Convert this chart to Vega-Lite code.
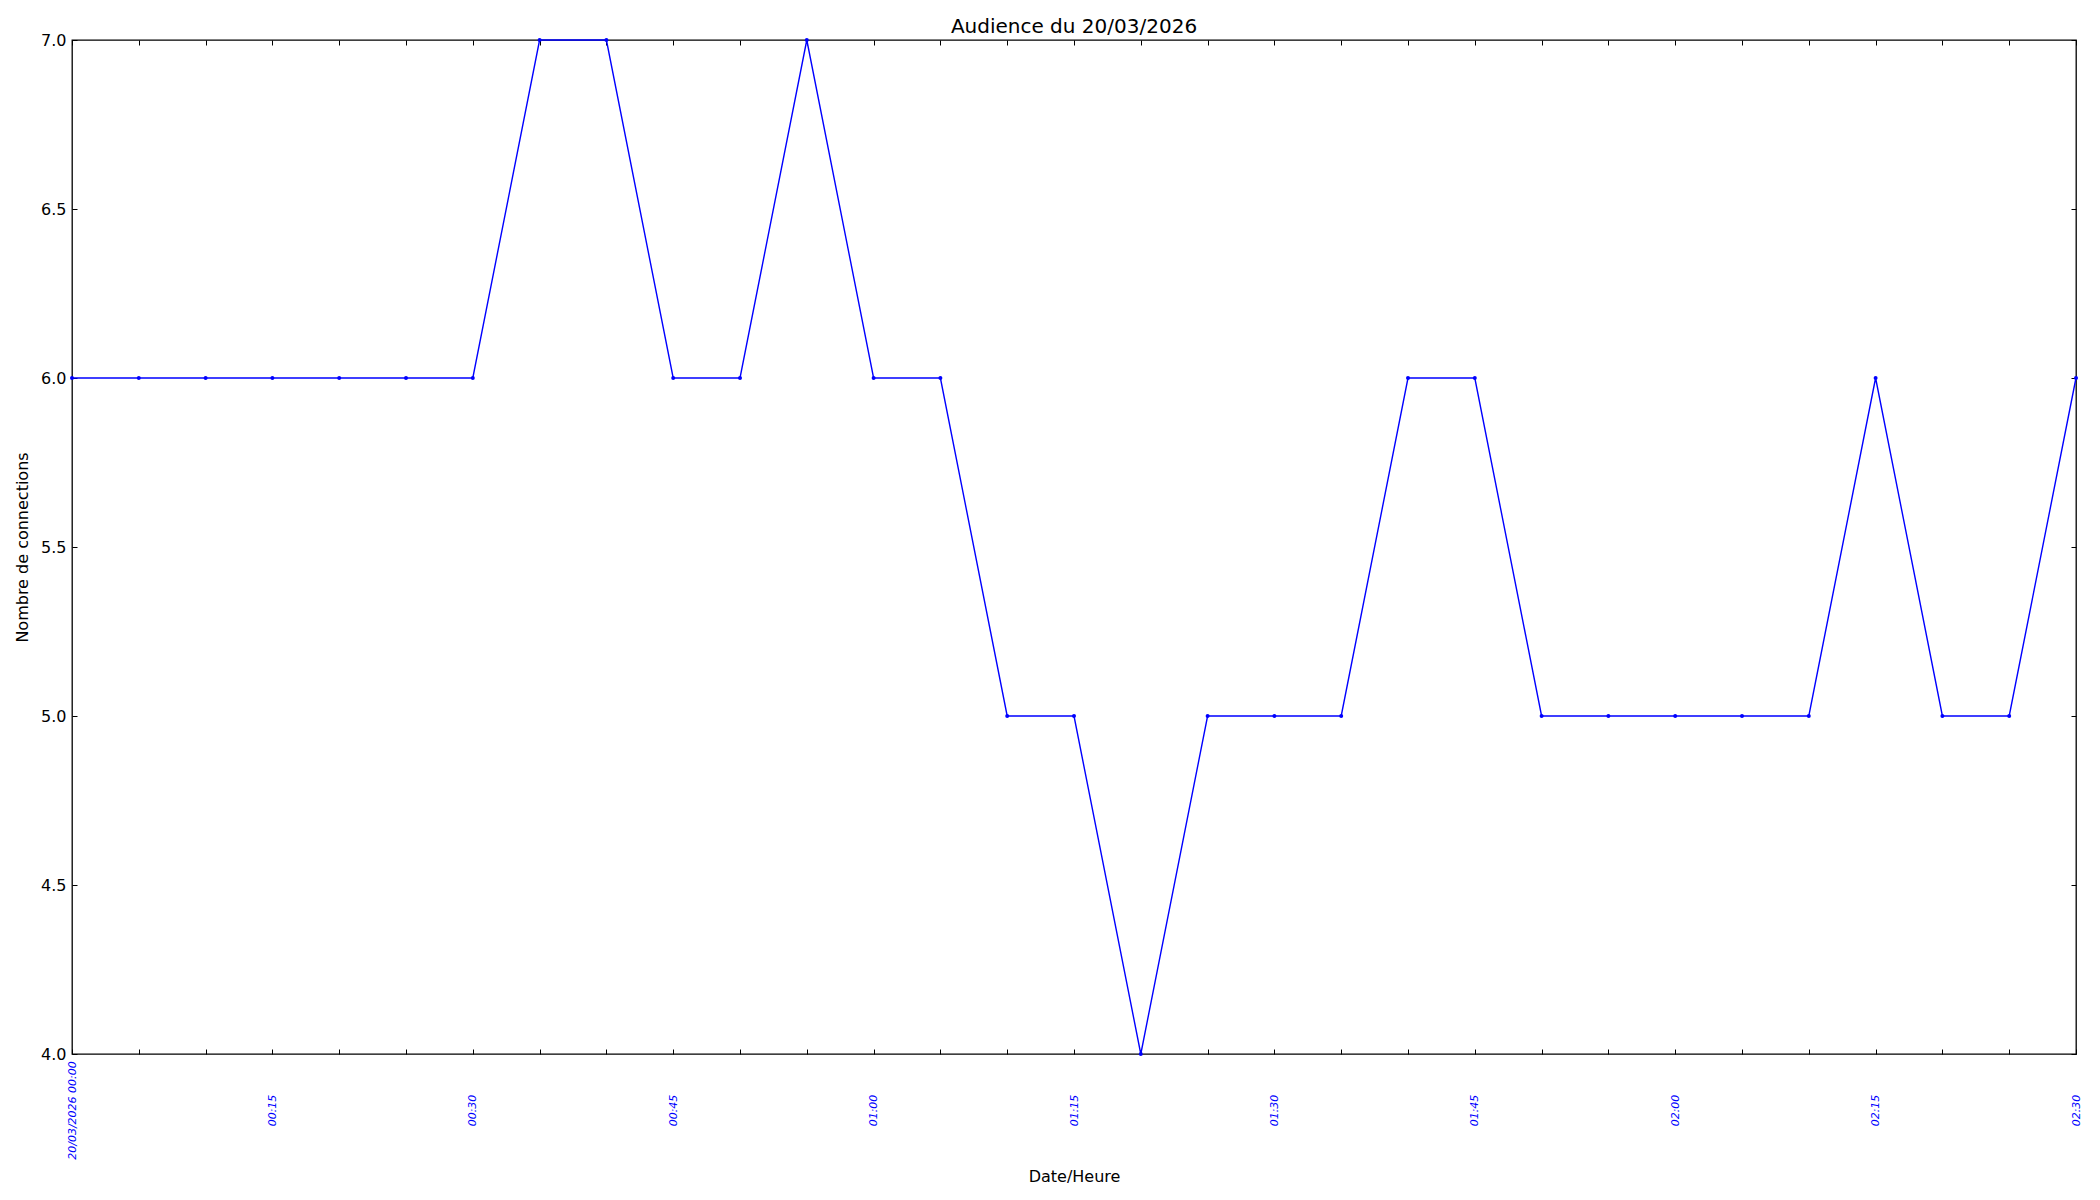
{
  "$schema": "https://vega.github.io/schema/vega-lite/v6.json",
  "autosize": {"type": "none"},
  "width": 2004,
  "height": 1014,
  "padding": {"left": 72, "top": 40, "right": 24, "bottom": 146},
  "background": "white",
  "config": {
    "font": "DejaVu Sans",
    "view": {"stroke": "black", "strokeWidth": 1.3},
    "axis": {"grid": false, "domain": false, "tickColor": "black", "tickSize": -5, "tickWidth": 1}
  },
  "title": {"text": "Audience du 20/03/2026", "fontSize": 20, "fontWeight": "normal", "font": "DejaVu Sans", "color": "black", "baseline": "alphabetic", "offset": 7, "dy": 28},
  "data": {"values": [
    {"t": "2026-03-20T00:00:00", "n": 6},
    {"t": "2026-03-20T00:05:00", "n": 6},
    {"t": "2026-03-20T00:10:00", "n": 6},
    {"t": "2026-03-20T00:15:00", "n": 6},
    {"t": "2026-03-20T00:20:00", "n": 6},
    {"t": "2026-03-20T00:25:00", "n": 6},
    {"t": "2026-03-20T00:30:00", "n": 6},
    {"t": "2026-03-20T00:35:00", "n": 7},
    {"t": "2026-03-20T00:40:00", "n": 7},
    {"t": "2026-03-20T00:45:00", "n": 6},
    {"t": "2026-03-20T00:50:00", "n": 6},
    {"t": "2026-03-20T00:55:00", "n": 7},
    {"t": "2026-03-20T01:00:00", "n": 6},
    {"t": "2026-03-20T01:05:00", "n": 6},
    {"t": "2026-03-20T01:10:00", "n": 5},
    {"t": "2026-03-20T01:15:00", "n": 5},
    {"t": "2026-03-20T01:20:00", "n": 4},
    {"t": "2026-03-20T01:25:00", "n": 5},
    {"t": "2026-03-20T01:30:00", "n": 5},
    {"t": "2026-03-20T01:35:00", "n": 5},
    {"t": "2026-03-20T01:40:00", "n": 6},
    {"t": "2026-03-20T01:45:00", "n": 6},
    {"t": "2026-03-20T01:50:00", "n": 5},
    {"t": "2026-03-20T01:55:00", "n": 5},
    {"t": "2026-03-20T02:00:00", "n": 5},
    {"t": "2026-03-20T02:05:00", "n": 5},
    {"t": "2026-03-20T02:10:00", "n": 5},
    {"t": "2026-03-20T02:15:00", "n": 6},
    {"t": "2026-03-20T02:20:00", "n": 5},
    {"t": "2026-03-20T02:25:00", "n": 5},
    {"t": "2026-03-20T02:30:00", "n": 6}
  ]},
  "layer": [
    {
      "mark": {"type": "line", "color": "#0000ff", "strokeWidth": 1.4, "point": {"filled": true, "color": "#0000ff", "size": 16, "opacity": 1}},
      "encoding": {
        "x": {"field": "t", "type": "temporal", "scale": {"nice": false},
          "axis": {"orient": "bottom", "title": "Date/Heure", "titleFontSize": 16, "titleFontWeight": "normal", "titleColor": "black",
            "titleY": 127, "titleBaseline": "alphabetic",
            "values": [
              {"year": 2026, "month": 3, "date": 20, "hours": 0, "minutes": 0},
              {"year": 2026, "month": 3, "date": 20, "hours": 0, "minutes": 5},
              {"year": 2026, "month": 3, "date": 20, "hours": 0, "minutes": 10},
              {"year": 2026, "month": 3, "date": 20, "hours": 0, "minutes": 15},
              {"year": 2026, "month": 3, "date": 20, "hours": 0, "minutes": 20},
              {"year": 2026, "month": 3, "date": 20, "hours": 0, "minutes": 25},
              {"year": 2026, "month": 3, "date": 20, "hours": 0, "minutes": 30},
              {"year": 2026, "month": 3, "date": 20, "hours": 0, "minutes": 35},
              {"year": 2026, "month": 3, "date": 20, "hours": 0, "minutes": 40},
              {"year": 2026, "month": 3, "date": 20, "hours": 0, "minutes": 45},
              {"year": 2026, "month": 3, "date": 20, "hours": 0, "minutes": 50},
              {"year": 2026, "month": 3, "date": 20, "hours": 0, "minutes": 55},
              {"year": 2026, "month": 3, "date": 20, "hours": 1, "minutes": 0},
              {"year": 2026, "month": 3, "date": 20, "hours": 1, "minutes": 5},
              {"year": 2026, "month": 3, "date": 20, "hours": 1, "minutes": 10},
              {"year": 2026, "month": 3, "date": 20, "hours": 1, "minutes": 15},
              {"year": 2026, "month": 3, "date": 20, "hours": 1, "minutes": 20},
              {"year": 2026, "month": 3, "date": 20, "hours": 1, "minutes": 25},
              {"year": 2026, "month": 3, "date": 20, "hours": 1, "minutes": 30},
              {"year": 2026, "month": 3, "date": 20, "hours": 1, "minutes": 35},
              {"year": 2026, "month": 3, "date": 20, "hours": 1, "minutes": 40},
              {"year": 2026, "month": 3, "date": 20, "hours": 1, "minutes": 45},
              {"year": 2026, "month": 3, "date": 20, "hours": 1, "minutes": 50},
              {"year": 2026, "month": 3, "date": 20, "hours": 1, "minutes": 55},
              {"year": 2026, "month": 3, "date": 20, "hours": 2, "minutes": 0},
              {"year": 2026, "month": 3, "date": 20, "hours": 2, "minutes": 5},
              {"year": 2026, "month": 3, "date": 20, "hours": 2, "minutes": 10},
              {"year": 2026, "month": 3, "date": 20, "hours": 2, "minutes": 15},
              {"year": 2026, "month": 3, "date": 20, "hours": 2, "minutes": 20},
              {"year": 2026, "month": 3, "date": 20, "hours": 2, "minutes": 25},
              {"year": 2026, "month": 3, "date": 20, "hours": 2, "minutes": 30}
            ],
            "labelExpr": "minutes(datum.value) % 15 == 0 ? ((hours(datum.value) == 0 && minutes(datum.value) == 0) ? '20/03/2026 00:00' : timeFormat(datum.value, '%H:%M')) : ''",
            "labelAngle": -90, "labelAlign": "center", "labelBaseline": "middle", "labelPadding": 61,
            "labelColor": "#0000ff", "labelFontSize": 11, "labelFontStyle": "italic", "labelOverlap": false, "labelBound": false, "labelFlush": false}},
        "y": {"field": "n", "type": "quantitative", "scale": {"domain": [4, 7], "nice": false, "zero": false},
          "axis": {"orient": "left", "title": "Nombre de connections", "titleFontSize": 16, "titleFontWeight": "normal", "titleColor": "black",
            "titleX": -50, "titleY": 507, "titleAngle": -90, "titleAlign": "center", "titleBaseline": "middle",
            "values": [4, 4.5, 5, 5.5, 6, 6.5, 7], "format": ".1f",
            "labelFontSize": 16, "labelColor": "black", "labelPadding": 11, "labelBaseline": "middle", "labelFlush": false, "labelBound": false, "labelOverlap": false}}
      }
    },
    {
      "mark": {"type": "point", "opacity": 0},
      "encoding": {
        "x": {"field": "t", "type": "temporal",
          "axis": {"orient": "top", "title": null, "labels": false, "tickCount": 30}},
        "y": {"field": "n", "type": "quantitative",
          "axis": {"orient": "right", "title": null, "labels": false, "values": [4, 4.5, 5, 5.5, 6, 6.5, 7]}}
      }
    }
  ],
  "resolve": {"axis": {"x": "independent", "y": "independent"}}
}
